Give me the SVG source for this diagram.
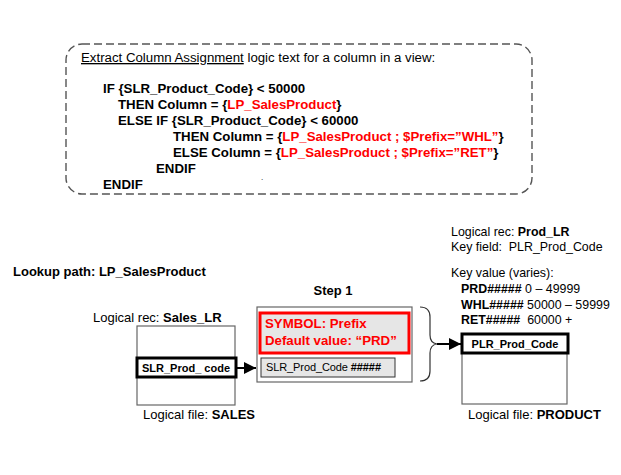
<svg xmlns="http://www.w3.org/2000/svg" width="621" height="475" viewBox="0 0 621 475">
<style>
text{font-family:"Liberation Sans",Arial,sans-serif;font-size:13px;fill:#000}
.lg{font-size:13.25px}
.rt{font-size:12.4px}
.b{font-weight:bold}
.r{fill:#ff0000}
.sm{font-size:11px}
.box{fill:#fff;stroke:#666;stroke-width:1.2}
.key{fill:#fff;stroke:#000;stroke-width:3}
.conn{stroke:#000;stroke-width:2;fill:none}
</style>
<defs>
<marker id="ah" viewBox="0 0 12 12" refX="12" refY="6" markerWidth="12" markerHeight="12" markerUnits="userSpaceOnUse" orient="auto">
<path d="M0,0 L12,6 L0,12 Z" fill="#000"/>
</marker>
</defs>
<rect width="621" height="475" fill="#fff"/>

<g id="logic">
<rect x="66" y="44" width="466" height="150" rx="16" ry="16" fill="none" stroke="#555" stroke-width="1.4" stroke-dasharray="8,4"/>
<text class="lg" x="81" y="62"><tspan text-decoration="underline">Extract Column Assignment</tspan> logic text for a column in a view:</text>
<text class="lg b" x="103" y="93">IF {SLR_Product_Code} &lt; 50000</text>
<text class="lg b" x="118" y="109">THEN Column = {<tspan class="r">LP_SalesProduct</tspan>}</text>
<text class="lg b" x="118" y="125">ELSE IF {SLR_Product_Code} &lt; 60000</text>
<text class="lg b" x="173" y="141">THEN Column = {<tspan class="r">LP_SalesProduct ; $Prefix=”WHL”</tspan>}</text>
<text class="lg b" x="173" y="157">ELSE Column = {<tspan class="r">LP_SalesProduct ; $Prefix=”RET”</tspan>}</text>
<text class="lg b" x="156" y="173">ENDIF</text>
<text class="lg b" x="103" y="189">ENDIF</text>
<text x="261" y="180" style="font-size:8px">.</text>
</g>

<g id="title">
<text class="b" x="13" y="276">Lookup path: LP_SalesProduct</text>
</g>

<g id="sales">
<text x="93" y="322">Logical rec: <tspan class="b">Sales_LR</tspan></text>
<rect class="box" x="137" y="326" width="98" height="79"/>
<rect class="key" x="137" y="358" width="99" height="19"/>
<text class="b sm" x="186" y="372" text-anchor="middle">SLR_Prod_ code</text>
<text x="143" y="419">Logical file: <tspan class="b">SALES</tspan></text>
</g>

<g id="step1">
<text class="b" x="333" y="295" text-anchor="middle">Step 1</text>
<rect class="box" x="257" y="307" width="155" height="75" stroke-width="1.5"/>
<rect x="260" y="313" width="149" height="40" fill="#e6e6e6" stroke="#ff0000" stroke-width="3"/>
<text class="b r lg" x="265" y="328">SYMBOL: Prefix</text>
<text class="b r lg" x="265" y="345">Default value: “PRD”</text>
<rect x="261" y="358" width="134" height="19" fill="#e6e6e6" stroke="#333" stroke-width="1"/>
<text class="sm" x="266" y="371" textLength="115">SLR_Prod_Code <tspan class="b">#####</tspan></text>
</g>

<g id="product">
<text class="rt" x="451" y="236">Logical rec: <tspan class="b">Prod_LR</tspan></text>
<text class="rt" x="451" y="251">Key field:&#160; PLR_Prod_Code</text>
<text class="rt" x="451" y="277">Key value (varies):</text>
<text class="rt" x="461" y="293"><tspan class="b">PRD#####</tspan> 0 – 49999</text>
<text class="rt" x="461" y="309"><tspan class="b">WHL#####</tspan> 50000 – 59999</text>
<text class="rt" x="461" y="324"><tspan class="b">RET#####</tspan>&#160; 60000 +</text>
<rect class="box" x="462" y="334" width="105" height="70"/>
<rect class="key" x="462" y="334" width="106" height="19"/>
<text class="b sm" x="515" y="348" text-anchor="middle">PLR_Prod_Code</text>
<text x="468" y="419">Logical file: <tspan class="b">PRODUCT</tspan></text>
</g>

<g id="connectors">
<line class="conn" x1="237" y1="368" x2="256" y2="368" marker-end="url(#ah)"/>
<path d="M420,307 Q430,307 430,317 L430,335 Q430,343 437,344 Q430,345 430,353 L430,371 Q430,381 420,381" fill="none" stroke="#333" stroke-width="1.2"/>
<line class="conn" x1="437" y1="344" x2="461" y2="344" stroke-width="1.2" marker-end="url(#ah)"/>
</g>
</svg>
